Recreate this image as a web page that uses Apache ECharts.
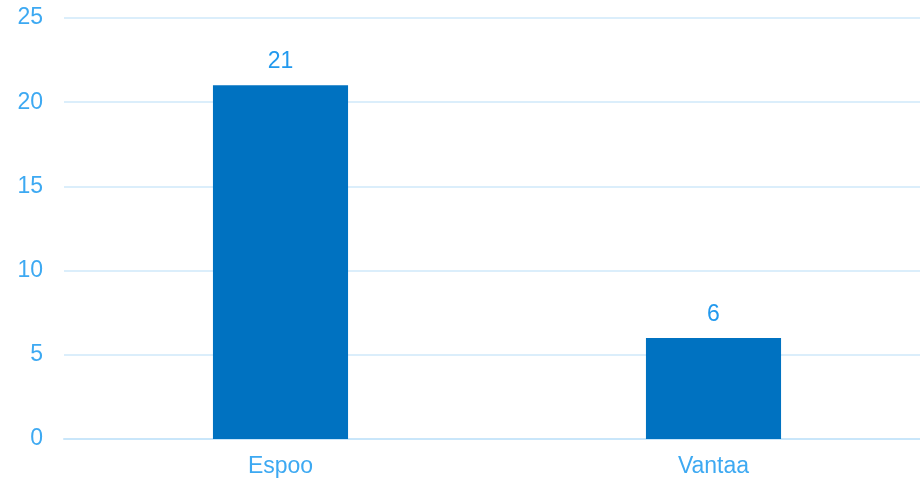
<!DOCTYPE html>
<html><head><meta charset="utf-8">
<script src="https://cdn.jsdelivr.net/npm/echarts@6/dist/echarts.min.js"></script>
<style>html,body{margin:0;padding:0;background:#fff;overflow:hidden}#c{width:930px;height:482px}</style>
</head><body><div id="c"></div>
<script>
const categories = ['Espoo', 'Vantaa'];
const values = [21, 6];
const yTicks = [0, 5, 10, 15, 20, 25];
const FONT = "'Liberation Sans', Arial, sans-serif";

const chart = echarts.init(document.getElementById('c'));
chart.setOption({
  animation: false,
  grid: { left: 64, right: 0, top: 18, bottom: 43, containLabel: false },
  xAxis: {
    type: 'category', data: categories,
    axisLine: { lineStyle: { color: '#C9E6FA', width: 2 } },
    axisTick: { show: false },
    axisLabel: { color: '#3DA9F2', fontSize: 23, fontFamily: FONT, margin: 16 }
  },
  yAxis: {
    type: 'value', min: yTicks[0], max: yTicks[yTicks.length - 1], interval: 5,
    axisLine: { show: false }, axisTick: { show: false },
    splitLine: { lineStyle: { color: '#CFE9FA', width: 1.5 } },
    axisLabel: { color: '#3DA9F2', fontSize: 23, fontFamily: FONT, margin: 21 }
  },
  series: [{
    type: 'bar', data: values, barWidth: '31.2%',
    itemStyle: { color: '#0072C1' },
    label: { show: true, position: 'top', distance: 12, color: '#2299EE', fontSize: 23, fontFamily: FONT }
  }]
});
</script></body></html>
